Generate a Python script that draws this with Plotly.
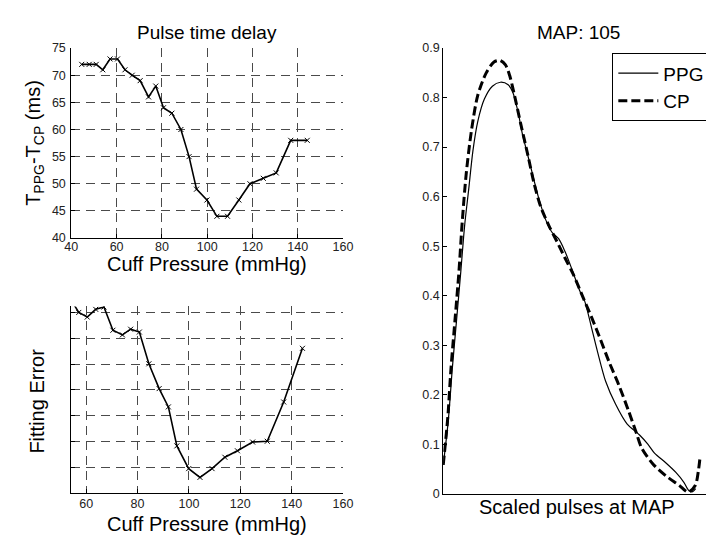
import plotly.graph_objects as go

# ---------------- data ----------------
pressure = [44.6, 47.9, 51.0, 53.9, 57.1, 60.4, 63.7, 66.9, 70.4, 74.1, 77.3, 80.7,
            84.4, 88.4, 92.0, 95.3, 99.9, 104.3, 109.0, 114.0, 118.9, 124.8, 130.5,
            136.9, 144.2]
delay_ms = [72, 72, 72, 71, 73, 73, 71, 70, 69, 66, 68, 64, 63, 60, 55, 49, 47, 44,
            44, 47, 50, 51, 52, 58, 58]

fit_pressure = pressure[3:]
fit_error = [7.52, 7.0, 6.82, 7.12, 7.21, 6.31, 6.13, 6.35, 6.24, 5.01, 4.05, 3.34,
             1.83, 0.95, 0.61, 0.95, 1.39, 1.64, 1.98, 2.01, 3.53, 5.61]

ppg_t = [0, 1.9, 3.4, 5.0, 6.6, 8.0, 9.5, 11.1, 12.9, 15.4, 18.4, 21.4, 24.3, 26.1,
         28.0, 29.7, 32.2, 34.0, 35.9, 38.3, 40.7, 43.2, 45.6, 48.0, 51.1, 52.9,
         55.4, 57.8, 60.8, 64.5, 68.8, 73.6, 76.6, 79.1, 83.4, 87.1, 90.1, 92.0,
         93.4, 94.5]
ppg_v = [0.058, 0.148, 0.253, 0.351, 0.450, 0.541, 0.613, 0.692, 0.751, 0.797, 0.823,
         0.831, 0.826, 0.810, 0.771, 0.725, 0.672, 0.633, 0.594, 0.554, 0.528, 0.515,
         0.489, 0.456, 0.410, 0.390, 0.338, 0.286, 0.227, 0.181, 0.141, 0.118, 0.100,
         0.082, 0.062, 0.043, 0.023, 0.006, 0.004, 0.010]

cp_t = [0, 1.7, 2.9, 4.4, 5.9, 7.1, 8.6, 10.5, 12.9, 16.0, 19.0, 21.2, 23.3, 24.9,
        26.7, 29.1, 31.6, 34.0, 36.4, 39.5, 42.6, 45.6, 48.7, 52.3, 55.4, 58.4, 62.1,
        65.7, 69.4, 72.4, 74.3, 78.5, 83.4, 88.3, 91.7, 94.4, 95.6, 96.2]
cp_v = [0.058, 0.154, 0.253, 0.351, 0.450, 0.548, 0.646, 0.731, 0.804, 0.849, 0.872,
        0.875, 0.866, 0.844, 0.804, 0.745, 0.686, 0.627, 0.581, 0.542, 0.509, 0.476,
        0.443, 0.397, 0.358, 0.318, 0.266, 0.220, 0.167, 0.121, 0.092, 0.060, 0.036,
        0.017, 0.003, 0.017, 0.049, 0.076]

delay_ticks = [40, 45, 50, 55, 60, 65, 70, 75]
pressure_ticks_top = [40, 60, 80, 100, 120, 140, 160]
pressure_ticks_bottom = [60, 80, 100, 120, 140, 160]
map_ticks = [0, 0.1, 0.2, 0.3, 0.4, 0.5, 0.6, 0.7, 0.8, 0.9]

FONT = "Liberation Sans, Arial, Helvetica, sans-serif"
GRID = "#4a4a4a"

fig = go.Figure()

fig.add_trace(go.Scatter(
    x=pressure, y=delay_ms, mode="lines+markers", xaxis="x", yaxis="y",
    line=dict(color="black", width=1.6),
    marker=dict(symbol="x-thin", size=5, line=dict(color="black", width=1)),
    showlegend=False))

fig.add_trace(go.Scatter(
    x=fit_pressure, y=fit_error, mode="lines+markers", xaxis="x2", yaxis="y2",
    line=dict(color="black", width=1.6),
    marker=dict(symbol="x-thin", size=5, line=dict(color="black", width=1)),
    showlegend=False))

fig.add_trace(go.Scatter(
    x=ppg_t, y=ppg_v, mode="lines", name="PPG", xaxis="x3", yaxis="y3",
    line=dict(color="black", width=1.2, shape="spline", smoothing=0.8)))
fig.add_trace(go.Scatter(
    x=cp_t, y=cp_v, mode="lines", name="CP", xaxis="x3", yaxis="y3",
    line=dict(color="black", width=3, dash="9px,4px", shape="spline", smoothing=0.8)))

common_tick = dict(ticks="inside", ticklen=4, tickcolor="black", tickwidth=1,
                   showline=True, linecolor="black", linewidth=1,
                   tickfont=dict(family=FONT, size=12.5, color="#222"),
                   zeroline=False)
grid = dict(showgrid=True, gridcolor=GRID, gridwidth=1, griddash="9px,6px")

fig.update_layout(
    width=714, height=536,
    margin=dict(l=0, r=0, t=0, b=0),
    paper_bgcolor="white", plot_bgcolor="white",
    font=dict(family=FONT, color="black"),
    xaxis=dict(domain=[0.0808, 0.4706], range=[40, 160], tickvals=pressure_ticks_top,
               anchor="y", ticklabelstandoff=-3, **common_tick, **grid),
    yaxis=dict(domain=[0.5728, 0.9366], range=[40, 75], tickvals=delay_ticks,
               anchor="x", ticklabelstandoff=2, **common_tick, **grid),
    xaxis2=dict(domain=[0.0808, 0.4706], range=[54.2, 160], tickvals=pressure_ticks_bottom,
                anchor="y2", ticklabelstandoff=-1, **common_tick, **grid),
    yaxis2=dict(domain=[0.0840, 0.4416], range=[0, 7.23], dtick=1, showticklabels=False,
                anchor="x2", **common_tick, **grid),
    xaxis3=dict(domain=[0.6144, 0.9976], range=[0, 100], showticklabels=False, ticks="",
                showline=True, linecolor="black", linewidth=1, showgrid=False,
                zeroline=False, anchor="y3"),
    yaxis3=dict(domain=[0.0830, 0.9366], range=[0, 0.9], tickvals=map_ticks,
                anchor="x3", showgrid=False, **common_tick),
    legend=dict(x=0.9976, y=0.9267, xanchor="right", yanchor="top",
                bordercolor="black", borderwidth=1, bgcolor="white",
                itemwidth=40,
                font=dict(family=FONT, size=19, color="black")),
    annotations=[
        dict(text="Pulse time delay", x=0.2759, y=0.9664, xref="paper", yref="paper",
             showarrow=False, xanchor="center", yanchor="middle",
             font=dict(family=FONT, size=19)),
        dict(text="MAP: 105", x=0.8081, y=0.9673, xref="paper", yref="paper",
             showarrow=False, xanchor="center", yanchor="middle",
             font=dict(family=FONT, size=19)),
        dict(text="Cuff Pressure (mmHg)", x=0.2759, y=0.5233, xref="paper", yref="paper",
             showarrow=False, xanchor="center", yanchor="middle",
             font=dict(family=FONT, size=20)),
        dict(text="Cuff Pressure (mmHg)", x=0.2759, y=0.0243, xref="paper", yref="paper",
             showarrow=False, xanchor="center", yanchor="middle",
             font=dict(family=FONT, size=20)),
        dict(text="Scaled pulses at MAP", x=0.8060, y=0.0578, xref="paper", yref="paper",
             showarrow=False, xanchor="center", yanchor="middle",
             font=dict(family=FONT, size=20)),
        dict(text="T<sub>PPG</sub>-T<sub>CP</sub> (ms)", x=0.027, y=0.7547,
             xref="paper", yref="paper", showarrow=False, textangle=-90,
             xanchor="center", yanchor="middle", font=dict(family=FONT, size=20)),
        dict(text="Fitting Error", x=0.0315, y=0.2612, xref="paper", yref="paper",
             showarrow=False, textangle=-90, xanchor="center", yanchor="middle",
             font=dict(family=FONT, size=20)),
    ],
)

fig.write_html("out.html")
